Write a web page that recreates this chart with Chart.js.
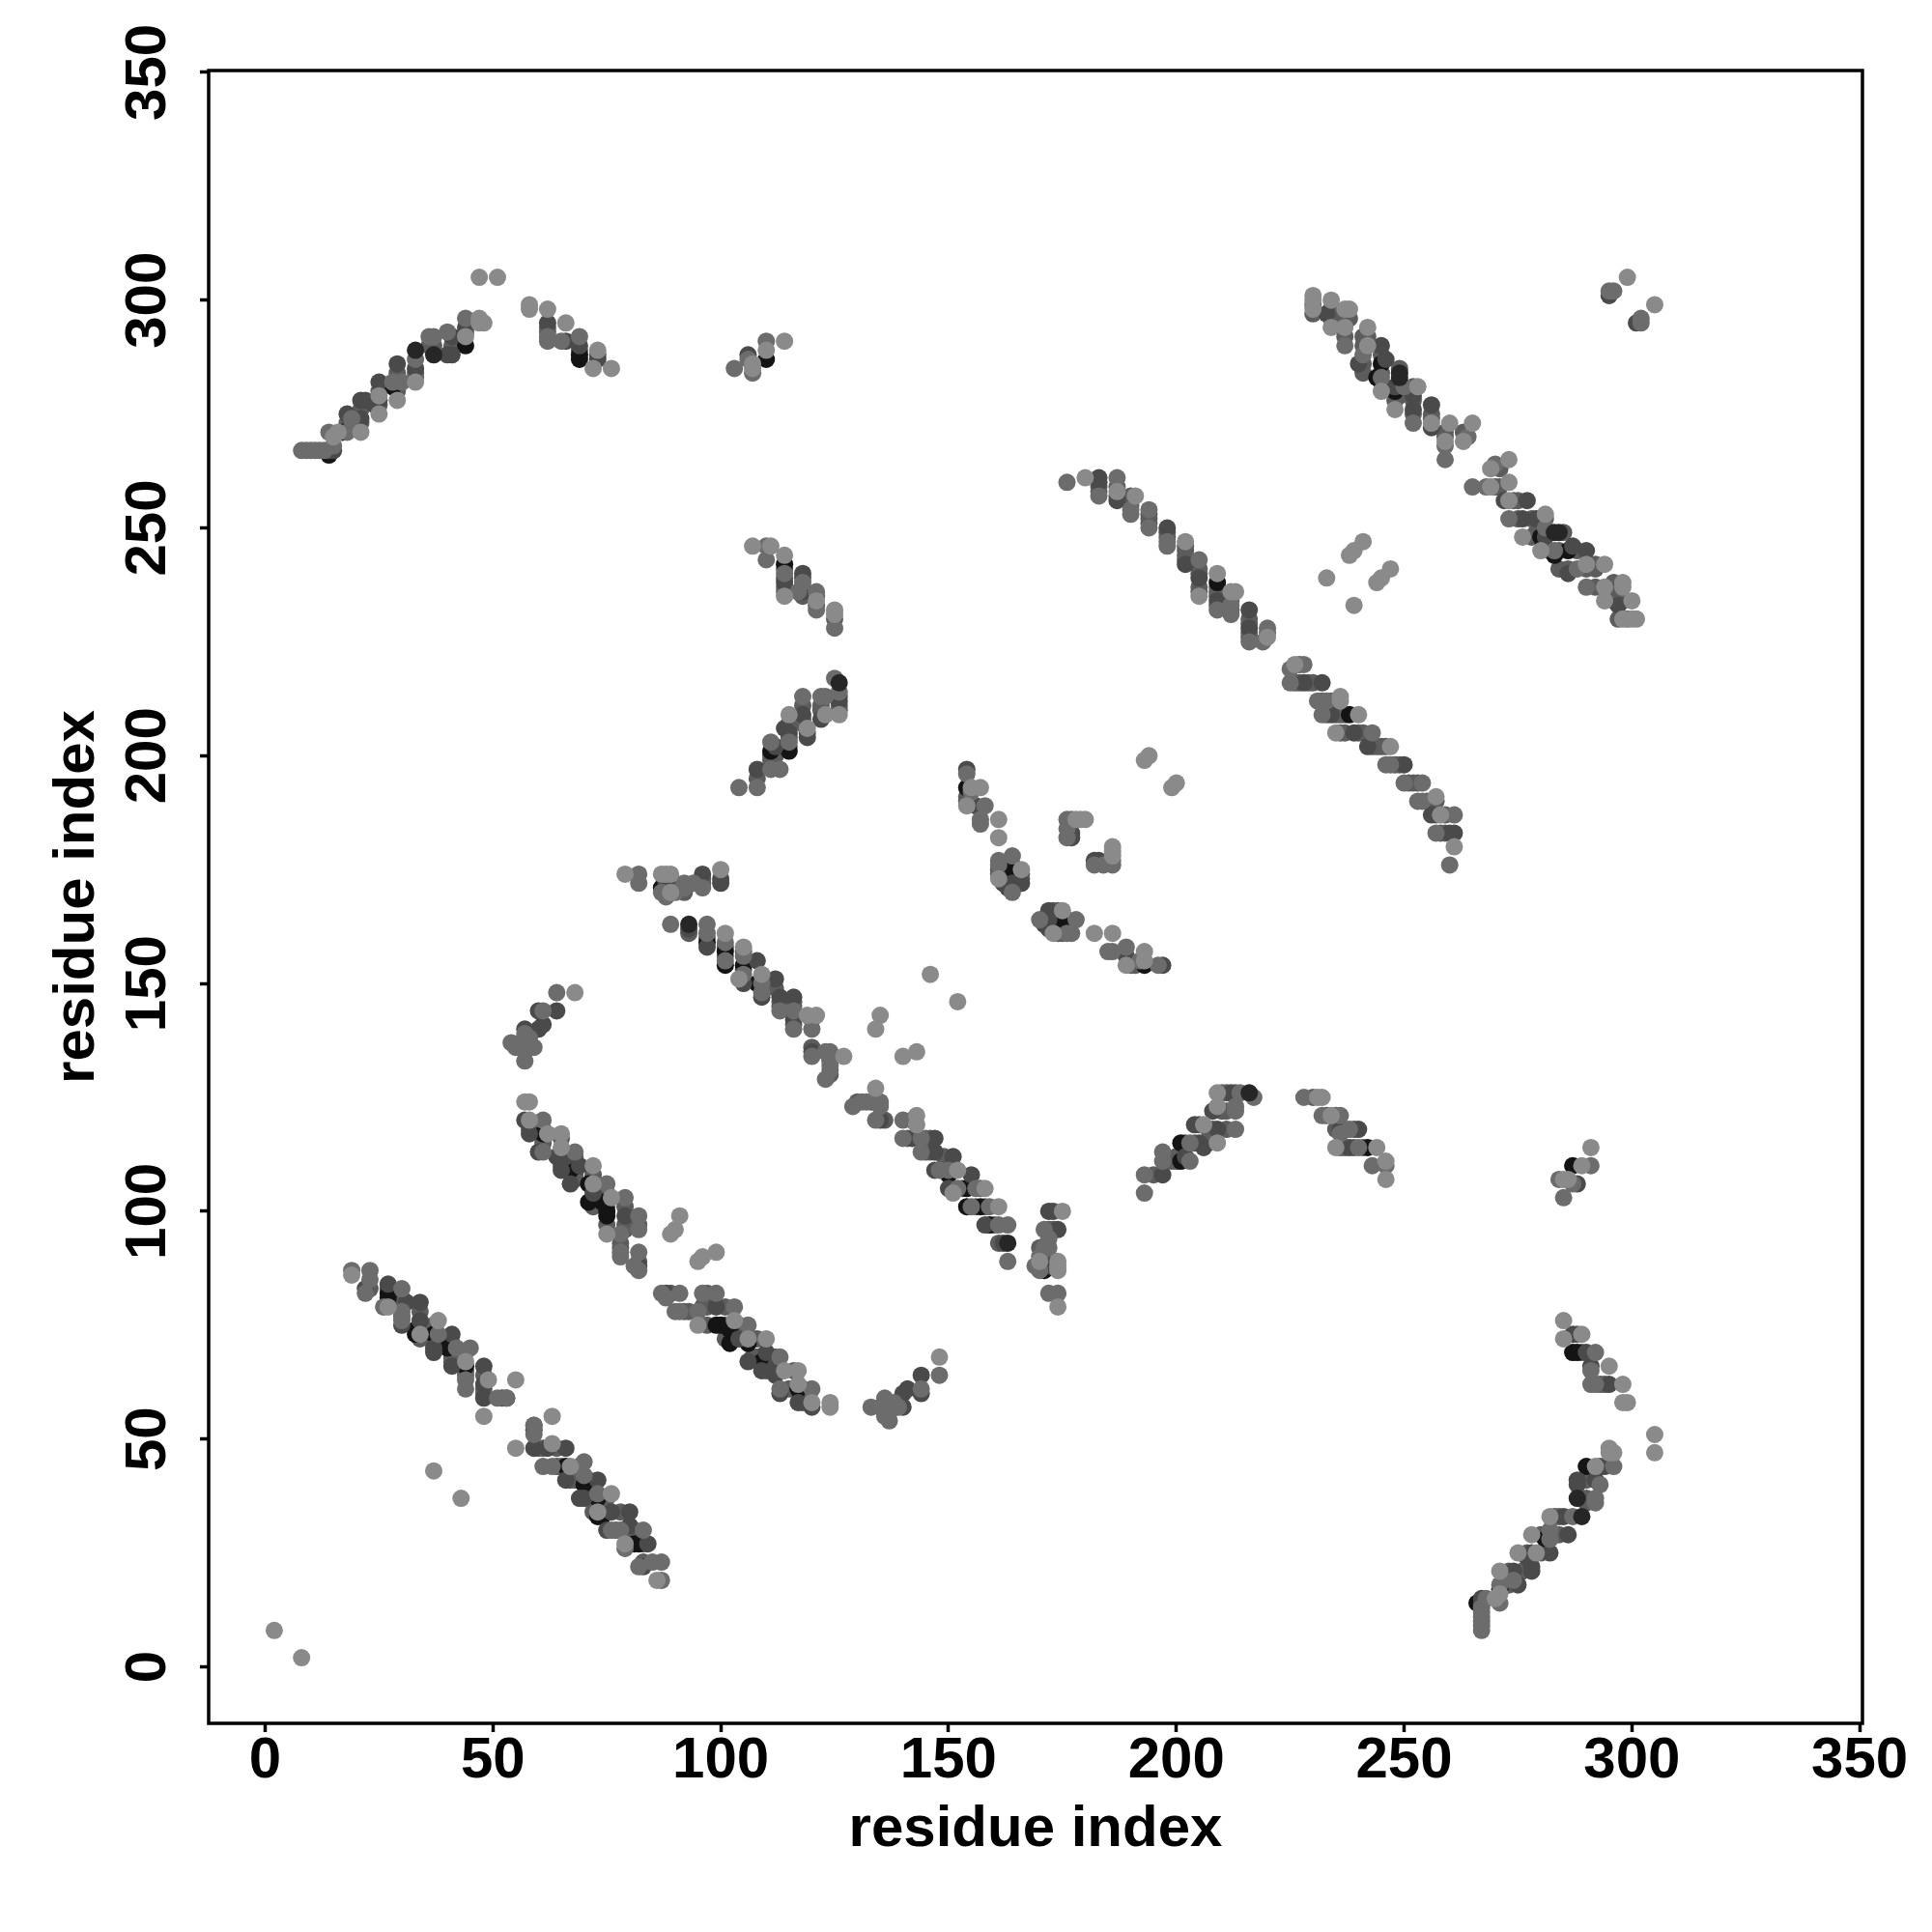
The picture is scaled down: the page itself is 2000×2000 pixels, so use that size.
<!DOCTYPE html>
<html>
<head>
<meta charset="utf-8">
<style>html,body{margin:0;padding:0;background:#fff}canvas{display:block}</style>
<script src="https://cdn.jsdelivr.net/npm/chart.js@4"></script>
</head>
<body>
<canvas id="c" width="2000" height="2000"></canvas>
<script>
const axisTicks = [0, 50, 100, 150, 200, 250, 300, 350];
const axisLabel = "residue index";

// Residue contact pairs [i, j] (i < j); the map is symmetric.
const contactsBlack = [
  [14,266],[17,271],[28,281],[69,287],[69,288],[44,290],[110,287],[114,242],[115,201],[111,201],
  [88,171],[87,171],[97,159],[101,157],[101,154],[105,154],[108,150],[154,193],[163,175],[163,172],
  [209,238],[244,283],[248,280],[245,286],[61,117],[67,109],[71,106],[71,102],[74,102],[75,99],[75,100],
  [27,82],[33,73],[37,73],[40,70],[44,66],[33,74],[27,81]
];
const contactsDark = [
  [62,295],[69,290],[73,287],[24,277],[25,278],[25,282],[33,285],[41,292],[40,288],[44,294],[18,275],
  [21,278],[22,278],[21,274],[29,286],[15,267],[14,267],[41,288],[66,291],[106,288],
  [114,238],[118,240],[118,236],[108,197],[112,202],[115,205],[118,209],[119,204],[122,208],[126,212],[114,206],
  [96,174],[100,173],[100,172],[88,172],
  [93,162],[97,158],[105,150],[108,155],[109,147],[112,151],[113,147],[116,147],[116,142],[120,135],
  [154,197],[156,189],[164,172],[165,172],[166,172],[163,171],[162,172],[177,183],[177,182],
  [183,261],[183,260],[187,256],[198,250],[205,239],[209,234],[216,232],[216,228],[202,242],
  [233,297],[240,286],[245,290],[246,287],[252,279],[252,276],[256,277],[256,272],[248,281],[295,301],
  [57,120],[58,117],[60,113],[64,112],[65,109],[69,110],[67,106],[79,99],[82,88],[66,112],[72,104],
  [56,137],[57,140],[60,140],[61,141],[60,144],[64,144],
  [22,83],[27,84],[31,80],[34,80],[30,75],[34,76],[41,73],[37,70],[41,66],[48,66],[48,62],[48,59],[52,59],[53,59],[37,69]
];
const contactsFill = [
  [183,258],[183,259],[187,259],[187,257],[190,255],[190,256],[190,257],[194,251],[194,252],[194,253],[198,248],[198,249],
  [202,243],[202,244],[202,245],[202,246],[205,241],[205,237],[205,240],[205,236],[209,236],[209,237],[209,235],[209,233],
  [212,234],[212,232],[216,230],[216,226],[216,227],[216,229],[220,227],
  [230,297],[234,296],[234,297],[234,298],[237,292],[237,296],[238,296],[241,292],[241,290],[242,292],[241,286],[241,284],
  [245,288],[245,284],[245,282],[249,281],[249,279],[249,285],[248,278],[252,278],[252,275],[252,281],[256,275],[256,274],
  [259,271],[259,270],[263,271],
  [58,119],[58,118],[61,116],[61,115],[61,118],[65,116],[65,112],[65,111],[65,110],[68,112],[68,111],[68,108],[68,107],[68,109],
  [72,108],[72,107],[72,103],[72,101],[75,104],[75,103],[75,101],[75,97],[79,101],[79,97],[79,96],[82,97],[82,89],[78,93],[78,92],
  [23,83],[27,83],[27,80],[30,81],[30,79],[30,77],[34,78],[34,75],[34,72],[37,72],[37,71],[37,75],[41,71],[41,69],[41,68],[41,67],
  [44,69],[44,65],[44,64],[48,64],[48,60],[48,61],
  [93,161],[97,160],[101,158],[101,156],[105,157],[105,153],[105,151],[109,151],[109,149],[112,149],[113,146],[113,145],
  [116,146],[116,145],[116,143],[116,141],[120,142],[120,136],[124,134],[124,133],[124,130],
  [114,241],[114,239],[114,237],[114,236],[118,239],[118,237],[118,235],[121,235],[121,233],[125,230],
  [108,195],[111,200],[111,199],[115,202],[115,204],[115,206],[115,207],[118,207],[118,208],[118,211],[119,205],[122,210],[122,211],
  [126,210],[126,211],[126,213],[112,200],
  [18,273],[21,276],[25,280],[29,284],[29,282],[33,284],[37,290],[41,290],[44,293],[29,280],[21,273],[18,272],[25,277],[33,283],[36,290],
  [62,293],[62,294],[69,289],[73,288],
  [161,175],[161,174],[164,176],[163,174],[154,191],[154,190],[166,173],[166,174],[90,172],[96,172],[96,173],[88,170],[92,170]
];
const contactsMid = [
  [8,267],[9,267],[10,267],[11,267],[12,267],[13,267],[15,268],[14,271],[18,271],[19,274],[28,282],[30,282],
  [36,292],[40,293],[44,296],[62,291],[62,292],[65,291],[69,292],[33,287],[37,292],
  [110,291],[103,285],[107,284],[106,287],
  [110,246],[110,243],[114,240],[118,238],[121,236],[121,232],[125,228],[117,236],[194,250],
  [104,193],[108,193],[111,197],[113,197],[111,203],[115,203],[118,213],[122,213],[126,214],[125,217],[123,213],
  [82,174],[82,172],[87,170],[92,172],[92,171],[96,171],[88,169],[90,170],[94,172],
  [89,163],[97,163],[97,161],[101,155],[101,159],[105,152],[105,156],[109,148],[109,150],[113,144],[116,144],[116,140],
  [120,140],[120,134],[124,135],[123,135],[124,132],[124,131],[123,129],
  [154,196],[157,186],[157,185],[161,177],[161,176],[164,178],[158,189],[155,192],[164,170],
  [176,186],[177,186],[176,182],[176,184],
  [176,260],[183,257],[190,254],[190,253],[194,254],[198,247],[198,246],[205,243],[209,232],[212,231],[216,225],
  [220,228],[219,225],[187,261],[212,233],
  [230,299],[237,290],[252,273],[259,265],[264,270],[245,283],[250,281],[259,268],[241,288],[295,302],[296,302],
  [61,120],[61,113],[68,113],[75,106],[79,103],[82,99],[82,96],[78,95],[78,91],[78,90],[82,91],[82,87],[81,88],
  [54,137],[55,136],[57,133],[57,135],[58,138],[59,136],[57,139],[61,144],[64,148],
  [19,87],[23,87],[23,85],[30,83],[30,76],[42,70],[45,70],[44,63],[44,61],[26,79],[22,82],[38,73],[30,78],[51,59],[59,53]
];
const contactsLight = [
  [2,8],[37,43],[47,305],[51,305],[58,298],[58,299],[62,298],[66,295],[73,289],[72,285],[76,285],[15,270],[16,271],
  [21,271],[25,275],[29,278],[33,282],[47,295],[48,295],[47,296],[44,292],[25,279],
  [114,291],[110,289],[107,286],[107,285],
  [107,246],[111,246],[114,244],[114,235],[121,234],[125,232],[125,231],
  [115,209],[119,206],[123,209],[126,209],
  [79,174],[87,174],[89,174],[88,174],[100,175],[89,170],
  [101,161],[105,158],[104,151],[109,152],[119,143],[121,143],[127,134],[146,152],[135,143],[134,140],
  [155,193],[157,193],[154,189],[161,186],[161,182],[161,173],[166,175],[193,199],[194,200],
  [178,186],[179,186],[180,186],
  [180,261],[187,258],[191,257],[202,247],[205,235],[209,240],[212,236],[213,236],[220,226],
  [241,247],[233,239],[238,244],[239,245],[299,305],
  [230,301],[230,298],[230,300],[234,300],[237,298],[238,298],[234,294],[237,294],[242,294],[242,290],[245,280],
  [248,276],[253,281],[256,273],[260,273],[259,269],[265,273],[263,269],
  [57,124],[58,124],[58,120],[62,117],[65,117],[65,114],[72,110],[72,106],[76,103],[75,95],[91,99],[90,96],[89,95],
  [68,148],[19,86],[27,79],[34,73],[38,76],[44,67],[49,63],[55,63],[48,55]
];
const contactsTop = [[249,284],[249,283],[33,289],[37,288],[93,163],[126,216]];

const shadeBlack = '#141414', shadeDark = '#4a4a4a', shadeFill = '#5c5c5c', shadeMid = '#6c6c6c', shadeLight = '#8a8a8a', shadeTop = '#262626';

const mirrored = pairs => pairs.flatMap(([i, j]) => [{x: i, y: j}, {x: j, y: i}]);
const layers = [
  [contactsFill, shadeFill],
  [contactsBlack, shadeBlack],
  [contactsDark, shadeDark],
  [contactsMid, shadeMid],
  [contactsLight, shadeLight],
  [contactsTop, shadeTop]
];
const datasets = layers.map(([pairs, color], k) => ({
  data: mirrored(pairs),
  backgroundColor: color,
  borderWidth: 0,
  pointRadius: 9,
  pointHoverRadius: 9,
  order: layers.length - k
}));

const fontBold = {family: '"Liberation Sans", Arial, sans-serif', size: 60, weight: 'bold', lineHeight: 1};
const gridCfg = {display: true, drawOnChartArea: false, drawTicks: true, tickLength: 9, tickWidth: 3.5, tickColor: '#000'};

const boxPlugin = {
  id: 'box',
  afterDraw(chart) {
    const {ctx, chartArea: a} = chart;
    ctx.save();
    ctx.strokeStyle = '#000';
    ctx.lineWidth = 3.5;
    ctx.strokeRect(a.left, a.top, a.right - a.left, a.bottom - a.top);
    ctx.restore();
  }
};

new Chart(document.getElementById('c'), {
  type: 'scatter',
  data: {datasets},
  plugins: [boxPlugin],
  options: {
    responsive: false,
    animation: false,
    devicePixelRatio: 1,
    layout: {padding: {left: 0, top: 73, right: 72, bottom: 0}},
    plugins: {legend: {display: false}, tooltip: {enabled: false}},
    scales: {
      x: {
        type: 'linear', min: -12.4, max: 350.6,
        afterBuildTicks: s => { s.ticks = axisTicks.map(value => ({value})); },
        afterFit: s => { s.height = 216; },
        border: {display: false},
        grid: gridCfg,
        ticks: {color: '#000', font: fontBold, padding: 0, maxRotation: 0, minRotation: 0, autoSkip: false},
        title: {display: true, text: axisLabel, color: '#000', font: fontBold, padding: {top: 0, bottom: 76}}
      },
      y: {
        type: 'linear', min: -12.4, max: 350.4,
        afterBuildTicks: s => { s.ticks = axisTicks.map(value => ({value})); },
        afterFit: s => { s.width = 216; },
        border: {display: false},
        grid: gridCfg,
        ticks: {color: '#000', font: fontBold, padding: 2, minRotation: 90, maxRotation: 90, autoSkip: false, crossAlign: 'center'},
        title: {display: true, text: axisLabel, color: '#000', font: fontBold, padding: {top: 50, bottom: 0}}
      }
    }
  }
});
</script>
</body>
</html>
